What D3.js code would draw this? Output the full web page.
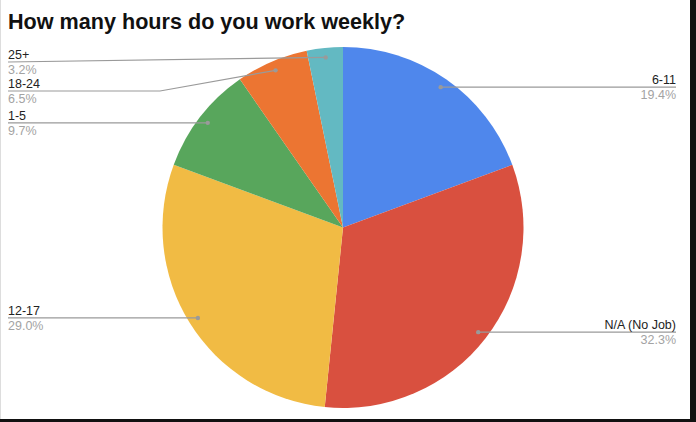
<!DOCTYPE html>
<html><head><meta charset="utf-8">
<script src="https://cdn.jsdelivr.net/npm/d3@7"></script>
<style>html,body{margin:0;padding:0;background:#fff;}svg{display:block;}</style>
</head><body>
<svg id="c" width="696" height="422"></svg>
<script>
const categories = ["6-11", "N/A (No Job)", "12-17", "1-5", "18-24", "25+"];
const counts = [6, 10, 9, 3, 2, 1];
const colors = ["#4f87ec", "#d9503f", "#f1bb44", "#58a65c", "#ec7532", "#63b9c2"];
const title = "How many hours do you work weekly?";

const W = 696, H = 422;
const svg = d3.select("#c");
svg.append("rect").attr("width", W).attr("height", H).attr("fill", "#fff");

const cx = 343, cy = 227.5, R = 180.5;
const total = d3.sum(counts);
const data = categories.map((c, i) => ({name: c, value: counts[i], color: colors[i]}));
const pie = d3.pie().value(d => d.value).sort(null);
const arcs = pie(data);
const arc = d3.arc().innerRadius(0).outerRadius(R);
const dotArc = d3.arc().innerRadius(171).outerRadius(171);

const g = svg.append("g").attr("transform", `translate(${cx},${cy})`);
g.selectAll("path").data(arcs).join("path")
  .attr("d", arc).attr("fill", d => d.data.color);

svg.append("text").attr("x", 8).attr("y", 29)
  .attr("font-family", "Liberation Sans, Arial, sans-serif")
  .attr("font-weight", "bold").attr("font-size", 21.6).attr("fill", "#111")
  .text(title);

// label layout
const fmt = d3.format(".1f");
const labels = arcs.map(a => {
  const [x, y] = dotArc.centroid(a);
  return {a, dx: cx + x, dy: cy + y, right: x > 0, ly: cy + y};
});
function stack(list) {
  let prev = -Infinity;
  list.sort((p, q) => p.dy - q.dy)
    .forEach(l => { l.ly = Math.max(l.dy, 62, prev + 29); prev = l.ly; });
}
stack(labels.filter(l => !l.right));
stack(labels.filter(l => l.right));

const font = "Liberation Sans, Arial, sans-serif";
const fs = 12.5;
labels.forEach(l => {
  const xEdge = l.right ? 676 : 8;
  let pts;
  if (Math.abs(l.ly - l.dy) > 10) {
    const elbow = l.right ? 526 : 160;
    pts = [[xEdge, l.ly], [elbow, l.ly], [l.dx, l.dy]];
  } else {
    pts = [[xEdge, l.ly], [l.dx, l.dy]];
  }
  svg.append("path").attr("d", d3.line()(pts))
    .attr("fill", "none").attr("stroke", "#9a9a9a").attr("stroke-width", 1.2);
  svg.append("circle").attr("cx", l.dx).attr("cy", l.dy).attr("r", 2.2).attr("fill", "#9a9a9a");
  const anchor = l.right ? "end" : "start";
  svg.append("text").attr("x", xEdge).attr("y", l.ly - 3)
    .attr("text-anchor", anchor).attr("font-family", font).attr("font-size", fs)
    .attr("fill", "#222").text(l.a.data.name);
  svg.append("text").attr("x", xEdge).attr("y", l.ly + 12)
    .attr("text-anchor", anchor).attr("font-family", font).attr("font-size", fs)
    .attr("fill", "#a3a3a3").text(fmt(l.a.data.value / total * 100) + "%");
});

// screenshot frame
svg.append("rect").attr("x", 690).attr("y", 0).attr("width", 6).attr("height", H).attr("fill", "#111");
svg.append("rect").attr("x", 0).attr("y", 419).attr("width", W).attr("height", 3).attr("fill", "#111");
svg.append("rect").attr("x", 0).attr("y", 0).attr("width", 1).attr("height", 419).attr("fill", "#ddd");
</script>
</body></html>
